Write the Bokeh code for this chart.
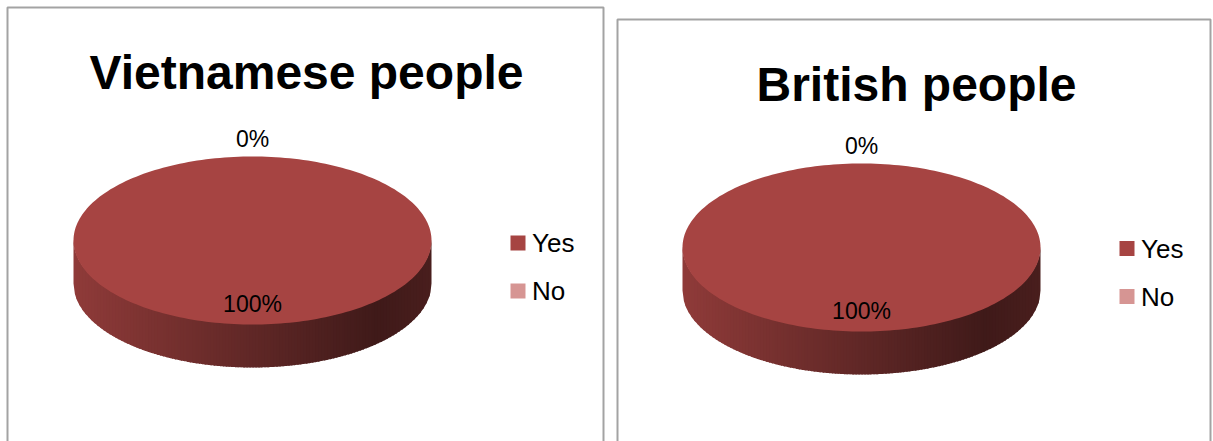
import numpy as np
from bokeh.plotting import figure
from bokeh.models import Range1d
from bokeh.core.properties import value
from bokeh.embed import file_html
from bokeh.resources import INLINE

# ---- data ----
titles = ["Vietnamese people", "British people"]
categories = ["Yes", "No"]
vietnamese_values = [100, 0]
british_values = [100, 0]
slice_colors = ["#A64442", "#D69593"]
series = [vietnamese_values, british_values]

# ---- layout (pixel space) ----
W, H = 1213, 441
panels = [
    dict(left=7, right=603, top=7, cx=252, cy=240, rx=179, ry=84, depth=43,
         title_x=306, title_y=72, leg_x=517.5, leg_y=242.5),
    dict(left=617, right=1210, top=19, cx=861, cy=247, rx=179, ry=84, depth=43,
         title_x=916, title_y=84, leg_x=1126.5, leg_y=248),
]

p = figure(width=W, height=H, x_range=Range1d(0, W), y_range=Range1d(H, 0),
           output_backend="svg", toolbar_location=None, min_border=0)
p.axis.visible = False
p.grid.visible = False
p.outline_line_color = None
p.background_fill_color = "white"
p.border_fill_color = "white"


def hex_to_rgb(h):
    h = h.lstrip("#")
    return np.array([int(h[i:i + 2], 16) for i in (0, 2, 4)], dtype=float)


def rgb_to_hex(c):
    c = np.clip(np.round(c), 0, 255).astype(int)
    return "#%02x%02x%02x" % tuple(c)


def shade(t):
    # t: 0 at left edge, 1 at right edge of the side wall
    if t < 0.85:
        return 0.86 + (0.38 - 0.86) * (t / 0.85)
    return 0.38 + (0.44 - 0.38) * ((t - 0.85) / 0.15)


def lower_y(x, cx, cy, rx, ry):
    return cy + ry * np.sqrt(np.clip(1 - ((x - cx) / rx) ** 2, 0, 1))


for vals, title, pn in zip(series, titles, panels):
    cx, cy, rx, ry, depth = pn["cx"], pn["cy"], pn["rx"], pn["ry"], pn["depth"]
    total = float(sum(vals))
    fracs = [v / total for v in vals]
    starts = np.concatenate([[0.0], np.cumsum(fracs)[:-1]]) * 360.0
    ends = np.cumsum(fracs) * 360.0

    # panel border (bottom edge runs off the page)
    p.quad(left=[pn["left"]], right=[pn["right"]], top=[pn["top"]], bottom=[H + 30],
           fill_color=None, line_color="#a3a3a3", line_width=2)

    # side wall of the 3D pie: overlapping vertical strips with shading gradient
    N = 120
    step = 2 * rx / N
    xs_side, ys_side, cols_side = [], [], []
    for k in range(N):
        x0 = cx - rx + k * step
        x1 = min(cx + rx, x0 + step + 1.2)
        xm = x0 + 0.5 * step
        theta = (180.0 + np.degrees(np.arcsin(np.clip((cx - xm) / rx, -1, 1)))) % 360
        idx = None
        for i, (s, e) in enumerate(zip(starts, ends)):
            if e > s and s <= theta < e:
                idx = i
                break
        if idx is None:
            continue
        base = hex_to_rgb(slice_colors[idx])
        col = rgb_to_hex(base * shade(k / (N - 1)))
        xx = np.linspace(x0, x1, 4)
        yy = lower_y(xx, cx, cy, rx, ry)
        xs_side.append(np.concatenate([xx, xx[::-1]]))
        ys_side.append(np.concatenate([yy - 1.0, (yy + depth)[::-1]]))
        cols_side.append(col)
    p.patches(xs_side, ys_side, fill_color=cols_side, line_color=None)

    # top face wedges
    for i, (s, e) in enumerate(zip(starts, ends)):
        if e <= s:
            continue
        th = np.radians(np.linspace(s, e, 241))
        xs = np.concatenate([[cx], cx + rx * np.sin(th), [cx]])
        ys = np.concatenate([[cy], cy - ry * np.cos(th), [cy]])
        p.patch(xs, ys, fill_color=slice_colors[i], line_color=None)

    # data labels
    for i, (s, e) in enumerate(zip(starts, ends)):
        mid = np.radians(0.5 * (s + e))
        f = 0.75 if fracs[i] >= 0.1 else 1.21
        lx = cx + f * rx * np.sin(mid)
        ly = cy - f * ry * np.cos(mid)
        p.text(x=[lx], y=[ly], text=["%d%%" % round(fracs[i] * 100)],
               text_font=value("Liberation Sans"), text_font_size="23px",
               text_align="center", text_baseline="middle", text_color="#000000")

    # title
    p.text(x=[pn["title_x"]], y=[pn["title_y"]], text=[title],
           text_font=value("Liberation Sans"), text_font_style="bold",
           text_font_size="48px", text_align="center", text_baseline="alphabetic",
           text_color="#000000")

    # legend
    for i, cat in enumerate(categories):
        ly = pn["leg_y"] + i * 48
        p.scatter(x=[pn["leg_x"]], y=[ly], marker="square", size=15,
                  fill_color=slice_colors[i], line_color=None)
        p.text(x=[pn["leg_x"] + 14], y=[ly], text=[cat],
               text_font=value("Liberation Sans"), text_font_size="26px",
               text_align="left", text_baseline="middle", text_color="#000000")

open("out.html", "w").write(file_html(p, INLINE))
